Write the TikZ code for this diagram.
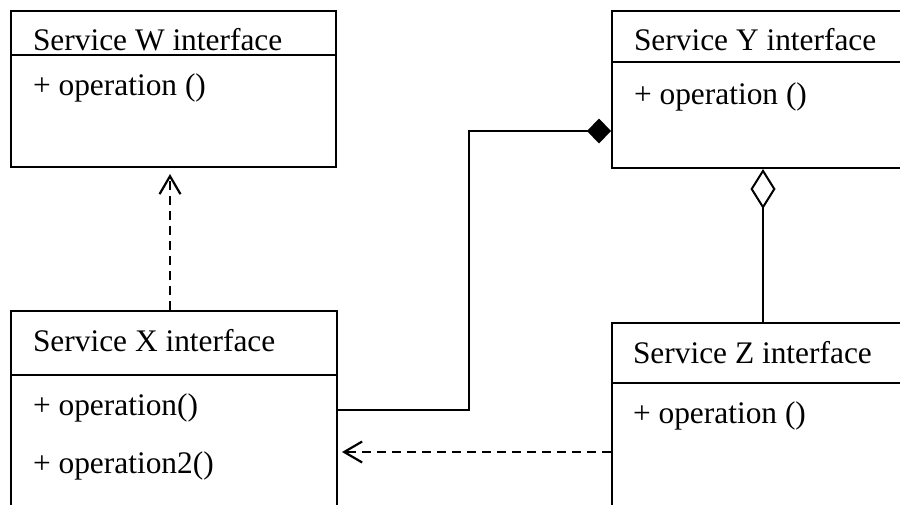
\documentclass[tikz,border=0pt]{standalone}
\usepackage{fontspec}
\setmainfont{Liberation Serif}
\usetikzlibrary{arrows.meta,fit}
\begin{document}
\begin{tikzpicture}[x=0.5pt,y=-0.5pt,
  line width=1pt,
  umlbox/.style={draw, inner sep=0pt, fit={#1}},
  uml text/.style={anchor=base west, inner sep=0pt, font=\fontsize{15.7}{18}\selectfont},
  depend/.style={dash pattern=on 4.5pt off 3pt, -{Straight Barb[length=9pt,width=10.5pt,line width=1.1pt]}},
  compose/.style={-{Diamond[length=12pt,width=12.5pt]}},
  aggregate/.style={-{Diamond[open,length=20pt,width=12.5pt]}},
]
\useasboundingbox (0,0) rectangle (900,504);
\clip (0,0) rectangle (900,504);

% class boxes
\node[umlbox={(11,11) (336,167)}] (W) {};
\node[umlbox={(612,11) (915,168)}] (Y) {};
\node[umlbox={(11,311) (337,520)}] (X) {};
\node[umlbox={(612,323) (915,520)}] (Z) {};

% header dividers
\draw (W.west |- 0,55) -- (W.east |- 0,55);
\draw (Y.west |- 0,62) -- (Y.east |- 0,62);
\draw (X.west |- 0,375) -- (X.east |- 0,375);
\draw (Z.west |- 0,383) -- (Z.east |- 0,383);

% names and operations
\node[uml text] (Wname) at (32,50)  {Service W interface};
\node[uml text] (Wop)   at (32,95)  {+ operation ()};
\node[uml text] (Yname) at (633,50) {Service Y interface};
\node[uml text] (Yop)   at (633,104) {+ operation ()};
\node[uml text] (Xname) at (32,351) {Service X interface};
\node[uml text] (Xop1)  at (32,415) {+ operation()};
\node[uml text] (Xop2)  at (32,473) {+ operation2()};
\node[uml text] (Zname) at (632,363) {Service Z interface};
\node[uml text] (Zop)   at (632,423) {+ operation ()};

% connector guides
\coordinate (colW) at (170,0);
\coordinate (colYZ) at (763,0);
\coordinate (bend) at (469,131);
\coordinate (rowXY) at (0,410);
\coordinate (rowZX) at (0,452);

% relations
\draw[depend, shorten >=3pt] (X.north -| colW) -- (W.south -| colW);
\draw[compose] (X.east |- rowXY) -| (bend) -- (Y.west |- bend);
\draw[aggregate] (Z.north -| colYZ) -- (Y.south -| colYZ);
\draw[depend, shorten >=2pt] (Z.west |- rowZX) -- (X.east |- rowZX);
\end{tikzpicture}
\end{document}
